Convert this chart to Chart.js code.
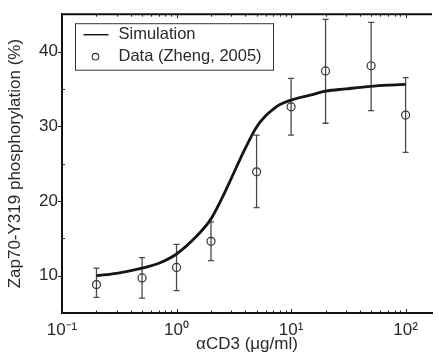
<!DOCTYPE html>
<html>
<head>
<meta charset="utf-8">
<script src="https://cdn.jsdelivr.net/npm/chart.js@4.4.0/dist/chart.umd.min.js"></script>
<style>
  html, body { margin: 0; padding: 0; background: #fff; }
  #wrap { position: relative; width: 439px; height: 358px; }
</style>
</head>
<body>
<div id="wrap"><canvas id="chart"></canvas></div>
<script>
// Simulation curve
const simDose = [0.2, 0.3, 0.5, 0.7, 1, 1.5, 2, 2.5, 3, 4, 5, 6, 7, 8, 10, 12, 15, 20, 30, 50, 70, 100];
const simValue = [10.0, 10.3, 11.0, 11.65, 12.9, 15.3, 17.6, 20.4, 23.0, 27.1, 29.9, 31.4, 32.3, 32.9, 33.5, 33.85, 34.2, 34.7, 35.0, 35.35, 35.5, 35.6];

// Experimental points (Zheng, 2005) with error bar ends
const dataDose = [0.2, 0.5, 1, 2, 5, 10, 20, 50, 100];
const dataValue = [8.8, 9.7, 11.1, 14.6, 23.9, 32.6, 37.4, 38.1, 31.5];
const dataLow = [7.1, 7.0, 8.0, 12.0, 19.1, 28.8, 30.4, 32.1, 26.5];
const dataHigh = [11.0, 12.4, 14.2, 17.2, 28.8, 36.4, 44.3, 43.9, 36.5];

// tick labels
const yTickLabels = [10, 20, 30, 40];
const xTickLabels = ['10\u207B\u00B9', '10\u2070', '10\u00B9', '10\u00B2'];

const FONT = "'Liberation Sans', Arial, sans-serif";
const TEXT = '#2a2a2a';

// error bars drawn under the circles
const errorBars = {
    id: 'errorBars',
    beforeDatasetsDraw(chart) {
        const ctx = chart.ctx;
        const xs = chart.scales.x, ys = chart.scales.y;
        ctx.save();
        ctx.strokeStyle = '#4a4a4a';
        ctx.lineWidth = 1.3;
        dataDose.forEach((d, i) => {
            const px = xs.getPixelForValue(d);
            const lo = ys.getPixelForValue(dataLow[i]);
            const hi = ys.getPixelForValue(dataHigh[i]);
            ctx.beginPath();
            ctx.moveTo(px, lo); ctx.lineTo(px, hi);
            ctx.moveTo(px - 3, lo); ctx.lineTo(px + 3, lo);
            ctx.moveTo(px - 3, hi); ctx.lineTo(px + 3, hi);
            ctx.stroke();
        });
        ctx.restore();
    }
};

// top frame line, tick marks and boxed legend
const frame = {
    id: 'frame',
    afterDraw(chart) {
        const ctx = chart.ctx;
        const area = chart.chartArea;
        const xs = chart.scales.x, ys = chart.scales.y;
        ctx.save();
        ctx.strokeStyle = '#111';
        ctx.lineWidth = 2;
        ctx.beginPath();
        ctx.moveTo(area.left - 1, area.top);
        ctx.lineTo(area.right, area.top);
        ctx.stroke();

        // x ticks, inward on bottom and top
        ctx.lineWidth = 1;
        ctx.strokeStyle = '#222';
        ctx.beginPath();
        for (let e = -1; e <= 2; e++) {
            for (let m = 1; m <= 9; m++) {
                const v = m * Math.pow(10, e);
                if (v > xs.max) break;
                const px = Math.round(xs.getPixelForValue(v)) + 0.5;
                const len = m === 1 ? 4 : 2.5;
                ctx.moveTo(px, area.bottom); ctx.lineTo(px, area.bottom - len);
                ctx.moveTo(px, area.top); ctx.lineTo(px, area.top + len);
            }
        }
        // y ticks: major outward, minor inward
        for (let v = 10; v <= 40; v += 5) {
            const py = Math.round(ys.getPixelForValue(v)) + 0.5;
            if (yTickLabels.includes(v)) {
                ctx.moveTo(area.left - 4, py); ctx.lineTo(area.left, py);
            } else {
                ctx.moveTo(area.left, py); ctx.lineTo(area.left + 3, py);
            }
        }
        ctx.stroke();

        // legend
        const bx = area.left + 13.5, by = area.top + 9.5;
        ctx.lineWidth = 1;
        ctx.strokeStyle = '#333';
        ctx.strokeRect(bx, by, 198, 46.5);
        ctx.font = '16.5px ' + FONT;
        ctx.fillStyle = TEXT;
        ctx.textBaseline = 'middle';
        ctx.textAlign = 'left';
        const ds = chart.data.datasets;
        ctx.strokeStyle = '#111';
        ctx.lineWidth = 1.4;
        ctx.beginPath();
        ctx.moveTo(bx + 8, by + 11); ctx.lineTo(bx + 33, by + 11);
        ctx.stroke();
        ctx.fillText(ds[0].label, bx + 43, by + 11);
        ctx.strokeStyle = '#333';
        ctx.lineWidth = 1.1;
        ctx.beginPath();
        ctx.arc(bx + 20, by + 33, 3.3, 0, Math.PI * 2);
        ctx.stroke();
        ctx.fillText(ds[1].label, bx + 43, by + 33);
        ctx.restore();
    }
};

const ctx = document.getElementById('chart').getContext('2d');
new Chart(ctx, {
    type: 'line',
    data: {
        datasets: [{
            label: 'Simulation',
            data: simDose.map((d, i) => ({ x: d, y: simValue[i] })),
            borderColor: '#151515',
            borderWidth: 2.8,
            pointRadius: 0,
            fill: false,
            cubicInterpolationMode: 'monotone'
        }, {
            label: 'Data (Zheng, 2005)',
            data: dataDose.map((d, i) => ({ x: d, y: dataValue[i] })),
            showLine: false,
            pointRadius: 4,
            pointBorderWidth: 1.2,
            pointBorderColor: '#333',
            pointBackgroundColor: 'rgba(0,0,0,0)'
        }]
    },
    options: {
        responsive: true,
        maintainAspectRatio: false,
        animation: false,
        layout: { padding: { top: 10, right: 0, left: 0, bottom: 0 } },
        plugins: {
            legend: { display: false },
            tooltip: { enabled: false }
        },
        scales: {
            x: {
                type: 'logarithmic',
                min: 0.1,
                max: 170,
                grid: { display: false, drawTicks: false },
                border: { display: true, color: '#111', width: 2 },
                ticks: {
                    autoSkip: false,
                    maxRotation: 0,
                    padding: 7,
                    color: TEXT,
                    font: { family: FONT, size: 17 },
                    callback: function(value) {
                        const e = Math.log10(value);
                        if (Math.abs(e - Math.round(e)) < 1e-9) return xTickLabels[Math.round(e) + 1];
                        return '';
                    }
                },
                title: {
                    display: true,
                    text: 'αCD3 (μg/ml)',
                    color: TEXT,
                    font: { family: FONT, size: 17 },
                    padding: { top: 3, bottom: 3 }
                },
                afterFit: function(scale) { scale.height = 45; }
            },
            y: {
                min: 5,
                max: 45,
                grid: { display: false, drawTicks: false },
                border: { display: true, color: '#111', width: 2 },
                ticks: {
                    stepSize: 5,
                    padding: 4,
                    color: TEXT,
                    font: { family: FONT, size: 17 },
                    callback: function(value) {
                        return yTickLabels.includes(value) ? String(value) : '';
                    }
                },
                title: {
                    display: true,
                    text: 'Zap70-Y319 phosphorylation (%)',
                    color: TEXT,
                    font: { family: FONT, size: 17 },
                    padding: { top: 5, bottom: 5 }
                },
                afterFit: function(scale) { scale.width = 62; }
            }
        }
    },
    plugins: [errorBars, frame]
});
</script>
</body>
</html>
